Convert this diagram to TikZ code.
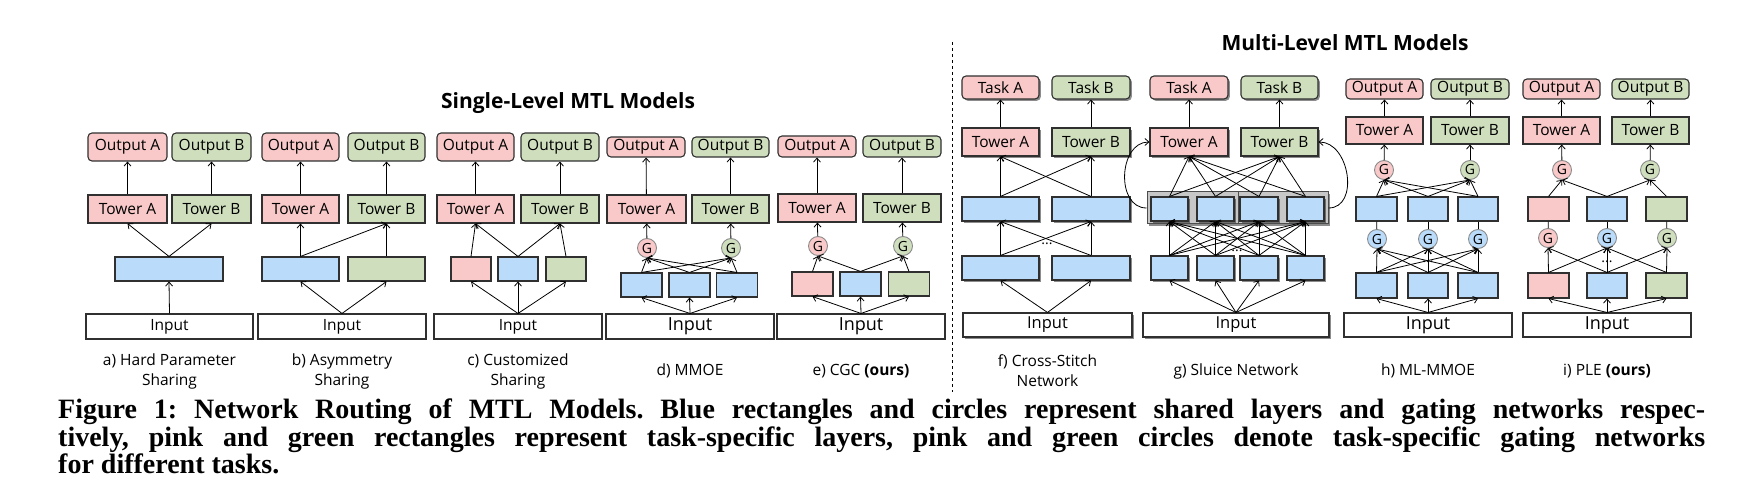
\documentclass[tikz,border=0pt]{standalone}
\usepackage{fontspec}
\setmainfont{Open Sans}
\newfontfamily\capfont{Liberation Serif}
\usepackage{tikz}
\usetikzlibrary{arrows.meta,shadows}
\definecolor{mtlpink}{HTML}{F8C9C8}
\definecolor{mtlgreen}{HTML}{CFDFBE}
\definecolor{mtlblue}{HTML}{BADCFA}
\definecolor{boxline}{HTML}{303030}
\definecolor{gateline}{HTML}{8A8A8A}
\tikzset{sz/.style 2 args={minimum width=#1pt,minimum height=#2pt}}

\begin{document}
\begin{tikzpicture}[x=1pt,y=-1pt,
  font=\fontsize{15.5}{18}\selectfont,
  box/.style={draw=boxline,line width=1.1pt,inner sep=0pt,align=center},
  outbox/.style={box,rounded corners=4pt},
  inbox/.style={box,fill=white},
  pinkbox/.style={fill=mtlpink},
  greenbox/.style={fill=mtlgreen},
  bluebox/.style={fill=mtlblue},
  gate/.style={circle,draw=gateline,line width=0.9pt,minimum size=19pt,inner sep=0pt,font=\fontsize{14}{14}\selectfont},
  shade/.style={drop shadow={shadow xshift=1.8pt,shadow yshift=-1.8pt,fill=black,opacity=0.45}},
  frame/.style={draw=black!70,fill=black!22,line width=1pt,inner sep=0pt},
  flow/.style={-{Straight Barb[length=4pt,width=7pt]},line width=0.8pt},
  link/.style={line width=0.8pt},
  subcap/.style={align=center,font=\fontsize{15.5}{20}\selectfont},
  heading/.style={font=\bfseries\fontsize{21}{24}\selectfont},
  dots/.style={font=\fontsize{14}{14}\selectfont,inner sep=0pt}
]
  \useasboundingbox (0,0) rectangle (1737,497);

  % headings
  \node[heading] (single) at (568,103) {Single-Level MTL Models};
  \node[heading] (multi) at (1345,43) {Multi-Level MTL Models};
  \coordinate (sepT) at (952,42);
  \coordinate (sepB) at (952,392);
  \draw[dashed,line width=0.8pt] (sepT) -- (sepB);

  % a) hard parameter sharing
  \node[outbox,pinkbox,sz={79}{28}] (a-oA) at (127.5,147) {Output A};
  \node[outbox,greenbox,sz={79}{28}] (a-oB) at (211.5,147) {Output B};
  \node[box,pinkbox,sz={79}{28}] (a-tA) at (127.5,209) {Tower A};
  \node[box,greenbox,sz={79}{28}] (a-tB) at (211.5,209) {Tower B};
  \node[box,bluebox,sz={108}{24}] (a-sh) at (169,269) {};
  \node[inbox,sz={167}{25}] (a-in) at (169.5,326.5) {Input};
  \node[subcap] (a-cap) at (169.5,371) {a) Hard Parameter\\Sharing};
  \draw[flow] (a-in.north) -- (a-sh.south);
  \draw[flow] (a-sh.north) -- (a-tA.south);
  \draw[flow] (a-sh.north) -- (a-tB.south);
  \draw[flow] (a-tA) -- (a-oA);
  \draw[flow] (a-tB) -- (a-oB);

  % b) asymmetry sharing
  \node[outbox,pinkbox,sz={77}{28}] (b-oA) at (300.5,147) {Output A};
  \node[outbox,greenbox,sz={77}{28}] (b-oB) at (386.5,147) {Output B};
  \node[box,pinkbox,sz={77}{28}] (b-tA) at (300.5,209) {Tower A};
  \node[box,greenbox,sz={77}{28}] (b-tB) at (386.5,209) {Tower B};
  \node[box,bluebox,sz={77}{24}] (b-sh) at (300.5,269) {};
  \node[box,greenbox,sz={77}{24}] (b-eB) at (386.5,269) {};
  \node[inbox,sz={168}{25}] (b-in) at (342,326.5) {Input};
  \node[subcap] (b-cap) at (342,371) {b) Asymmetry\\Sharing};
  \draw[flow] (b-in.north) -- (b-sh.south);
  \draw[flow] (b-in.north) -- (b-eB.south);
  \draw[flow] (b-sh.north) -- (b-tA.south);
  \draw[flow] (b-sh.north) -- (b-tB.south);
  \draw[flow] (b-eB.north) -- (b-tB.south);
  \draw[flow] (b-tA) -- (b-oA);
  \draw[flow] (b-tB) -- (b-oB);

  % c) customized sharing
  \node[outbox,pinkbox,sz={77}{28}] (c-oA) at (475.5,147) {Output A};
  \node[outbox,greenbox,sz={78}{28}] (c-oB) at (560,147) {Output B};
  \node[box,pinkbox,sz={77}{28}] (c-tA) at (475.5,209) {Tower A};
  \node[box,greenbox,sz={78}{28}] (c-tB) at (560,209) {Tower B};
  \node[box,pinkbox,sz={40}{24}] (c-eA) at (471,269) {};
  \node[box,bluebox,sz={40}{24}] (c-sh) at (518,269) {};
  \node[box,greenbox,sz={40}{24}] (c-eB) at (566,269) {};
  \node[inbox,sz={168}{25}] (c-in) at (518,326.5) {Input};
  \node[subcap] (c-cap) at (518,371) {c) Customized\\Sharing};
  \draw[flow] (c-in.north) -- (c-eA.south);
  \draw[flow] (c-in.north) -- (c-sh.south);
  \draw[flow] (c-in.north) -- (c-eB.south);
  \draw[flow] (c-eA.north) -- (c-tA.south);
  \draw[flow] (c-sh.north) -- (c-tA.south);
  \draw[flow] (c-sh.north) -- (c-tB.south);
  \draw[flow] (c-eB.north) -- (c-tB.south);
  \draw[flow] (c-tA) -- (c-oA);
  \draw[flow] (c-tB) -- (c-oB);

  % d) MMOE
  \node[outbox,pinkbox,sz={78}{20}] (d-oA) at (646,147) {Output A};
  \node[outbox,greenbox,sz={77}{20}] (d-oB) at (730.5,147) {Output B};
  \node[box,pinkbox,sz={79}{28}] (d-tA) at (646.5,209) {Tower A};
  \node[box,greenbox,sz={77}{28}] (d-tB) at (730.5,209) {Tower B};
  \node[gate,fill=mtlpink] (d-gA) at (647,248) {G};
  \node[gate,fill=mtlgreen] (d-gB) at (731,248) {G};
  \node[box,bluebox,sz={41}{24}] (d-e1) at (641.5,285) {};
  \node[box,bluebox,sz={41}{24}] (d-e2) at (689.5,285) {};
  \node[box,bluebox,sz={41}{24}] (d-e3) at (737,285) {};
  \node[inbox,sz={168}{25},font=\fontsize{18}{18}\selectfont] (d-in) at (690,326.5) {Input};
  \node[subcap] (d-cap) at (690,371) {d) MMOE};
  \foreach \i in {1,2,3} {
    \draw[flow] (d-in.north) -- (d-e\i.south);
    \draw[flow] (d-e\i.north) -- (d-gA.south);
    \draw[flow] (d-e\i.north) -- (d-gB.south);
  }
  \draw[flow] (d-gA) -- (d-tA);
  \draw[flow] (d-gB) -- (d-tB);
  \draw[flow] (d-tA) -- (d-oA);
  \draw[flow] (d-tB) -- (d-oB);

  % e) CGC
  \node[outbox,pinkbox,sz={78}{21}] (e-oA) at (817,146.5) {Output A};
  \node[outbox,greenbox,sz={78}{21}] (e-oB) at (902,146.5) {Output B};
  \node[box,pinkbox,sz={78}{28}] (e-tA) at (817,208) {Tower A};
  \node[box,greenbox,sz={78}{28}] (e-tB) at (902,208) {Tower B};
  \node[gate,fill=mtlpink] (e-gA) at (818,246) {G};
  \node[gate,fill=mtlgreen] (e-gB) at (903,246) {G};
  \node[box,pinkbox,sz={41}{24}] (e-eA) at (812.5,284) {};
  \node[box,bluebox,sz={41}{24}] (e-sh) at (860.5,284) {};
  \node[box,greenbox,sz={41}{24}] (e-eB) at (909,284) {};
  \node[inbox,sz={168}{25},font=\fontsize{18}{18}\selectfont] (e-in) at (861,326.5) {Input};
  \node[subcap] (e-cap) at (861,371) {e) CGC \textbf{(ours)}};
  \draw[flow] (e-in.north) -- (e-eA.south);
  \draw[flow] (e-in.north) -- (e-sh.south);
  \draw[flow] (e-in.north) -- (e-eB.south);
  \draw[flow] (e-eA.north) -- (e-gA.south);
  \draw[flow] (e-sh.north) -- (e-gA.south);
  \draw[flow] (e-sh.north) -- (e-gB.south);
  \draw[flow] (e-eB.north) -- (e-gB.south);
  \draw[flow] (e-gA) -- (e-tA);
  \draw[flow] (e-gB) -- (e-tB);
  \draw[flow] (e-tA) -- (e-oA);
  \draw[flow] (e-tB) -- (e-oB);

  % f) cross-stitch network
  \node[outbox,pinkbox,shade,sz={77}{23}] (f-kA) at (1000.5,87.5) {Task A};
  \node[outbox,greenbox,shade,sz={78}{23}] (f-kB) at (1091,87.5) {Task B};
  \node[box,pinkbox,shade,sz={77}{28}] (f-tA) at (1000.5,142) {Tower A};
  \node[box,greenbox,shade,sz={78}{28}] (f-tB) at (1091,142) {Tower B};
  \node[box,bluebox,shade,sz={77}{24}] (f-u1) at (1000.5,209) {};
  \node[box,bluebox,shade,sz={78}{24}] (f-u2) at (1091,209) {};
  \node[box,bluebox,shade,sz={77}{24}] (f-l1) at (1000.5,268) {};
  \node[box,bluebox,shade,sz={78}{24}] (f-l2) at (1091,268) {};
  \node[inbox,shade,sz={169}{24},font=\fontsize{16.5}{18}\selectfont] (f-in) at (1047.5,325) {Input};
  \node[dots] (f-dots) at (1047,244) {...};
  \node[subcap] (f-cap) at (1047.5,371) {f) Cross-Stitch\\Network};
  \foreach \i in {1,2} {
    \draw[flow] (f-in.north) -- (f-l\i.south);
    \draw[flow] (f-l\i.north) -- (f-u1.south);
    \draw[flow] (f-l\i.north) -- (f-u2.south);
    \draw[flow] (f-u\i.north) -- (f-tA.south);
    \draw[flow] (f-u\i.north) -- (f-tB.south);
  }
  \draw[flow] (f-tA) -- (f-kA);
  \draw[flow] (f-tB) -- (f-kB);

  % g) sluice network
  \node[outbox,pinkbox,shade,sz={78}{23}] (g-kA) at (1189,87.5) {Task A};
  \node[outbox,greenbox,shade,sz={77}{23}] (g-kB) at (1279.5,87.5) {Task B};
  \node[box,pinkbox,shade,sz={78}{28}] (g-tA) at (1189,142) {Tower A};
  \node[box,greenbox,shade,sz={77}{28}] (g-tB) at (1279.5,142) {Tower B};
  \node[frame,shade,sz={91}{32}] (g-fL) at (1192.5,208) {};
  \node[frame,shade,sz={90}{32}] (g-fR) at (1283,208) {};
  \node[box,bluebox,shade,sz={37}{24}] (g-u1) at (1169.5,209) {};
  \node[box,bluebox,shade,sz={37}{24}] (g-u2) at (1215.5,209) {};
  \node[box,bluebox,shade,sz={38}{24}] (g-u3) at (1259,209) {};
  \node[box,bluebox,shade,sz={37}{24}] (g-u4) at (1305.5,209) {};
  \node[box,bluebox,shade,sz={37}{24}] (g-l1) at (1169.5,268) {};
  \node[box,bluebox,shade,sz={37}{24}] (g-l2) at (1215.5,268) {};
  \node[box,bluebox,shade,sz={38}{24}] (g-l3) at (1259,268) {};
  \node[box,bluebox,shade,sz={37}{24}] (g-l4) at (1305.5,268) {};
  \node[inbox,shade,sz={186}{24},font=\fontsize{16.5}{18}\selectfont] (g-in) at (1236,325) {Input};
  \node[dots] (g-dots) at (1237,251) {...};
  \node[subcap] (g-cap) at (1236,371) {g) Sluice Network};
  \foreach \i in {1,...,4} {
    \draw[flow] (g-in.north) -- (g-l\i.south);
    \foreach \j in {1,...,4}
      \draw[flow] (g-l\i.north) -- (g-u\j.south);
    \draw[flow] (g-u\i.north) -- (g-tA.south);
    \draw[flow] (g-u\i.north) -- (g-tB.south);
  }
  \draw[flow] (g-fL.west) to[out=180,in=180,looseness=1.2] (g-tA.west);
  \draw[flow] (g-fR.east) to[out=0,in=0,looseness=1.2] (g-tB.east);
  \draw[flow] (g-tA) -- (g-kA);
  \draw[flow] (g-tB) -- (g-kB);

  % h) ML-MMOE
  \node[outbox,pinkbox,sz={77}{20}] (h-oA) at (1384.5,89) {Output A};
  \node[outbox,greenbox,sz={78}{20}] (h-oB) at (1470,89) {Output B};
  \node[box,pinkbox,sz={77}{27}] (h-tA) at (1384.5,130.5) {Tower A};
  \node[box,greenbox,sz={78}{27}] (h-tB) at (1470,130.5) {Tower B};
  \node[gate,fill=mtlpink] (h-gA) at (1384,170) {G};
  \node[gate,fill=mtlgreen] (h-gB) at (1470,170) {G};
  \node[box,bluebox,sz={41}{24}] (h-u1) at (1376.5,209) {};
  \node[box,bluebox,sz={40}{24}] (h-u2) at (1428,209) {};
  \node[box,bluebox,sz={40}{24}] (h-u3) at (1478,209) {};
  \node[gate,fill=mtlblue] (h-m1) at (1377,239) {G};
  \node[gate,fill=mtlblue] (h-m2) at (1428,239) {G};
  \node[gate,fill=mtlblue] (h-m3) at (1478,239) {G};
  \node[box,bluebox,sz={41}{25}] (h-l1) at (1376.5,285.5) {};
  \node[box,bluebox,sz={40}{25}] (h-l2) at (1428,285.5) {};
  \node[box,bluebox,sz={40}{25}] (h-l3) at (1478,285.5) {};
  \node[inbox,sz={168}{24},font=\fontsize{18}{18}\selectfont] (h-in) at (1428,325) {Input};
  \node[dots] (h-dots) at (1428,262) {...};
  \node[subcap] (h-cap) at (1428,371) {h) ML-MMOE};
  \foreach \i in {1,2,3} {
    \draw[flow] (h-in.north) -- (h-l\i.south);
    \foreach \j in {1,2,3}
      \draw[flow] (h-l\i.north) -- (h-m\j.south);
    \draw[link] (h-m\i) -- (h-u\i);
    \draw[flow] (h-u\i.north) -- (h-gA.south);
    \draw[flow] (h-u\i.north) -- (h-gB.south);
  }
  \draw[flow] (h-gA) -- (h-tA);
  \draw[flow] (h-gB) -- (h-tB);
  \draw[flow] (h-tA) -- (h-oA);
  \draw[flow] (h-tB) -- (h-oB);

  % i) PLE
  \node[outbox,pinkbox,sz={77}{20}] (i-oA) at (1561.5,89) {Output A};
  \node[outbox,greenbox,sz={77}{20}] (i-oB) at (1650.5,89) {Output B};
  \node[box,pinkbox,sz={77}{27}] (i-tA) at (1561.5,130.5) {Tower A};
  \node[box,greenbox,sz={77}{27}] (i-tB) at (1650.5,130.5) {Tower B};
  \node[gate,fill=mtlpink] (i-gA) at (1562,170) {G};
  \node[gate,fill=mtlgreen] (i-gB) at (1650,170) {G};
  \node[box,pinkbox,sz={41}{24}] (i-u1) at (1548.5,209) {};
  \node[box,bluebox,sz={40}{24}] (i-u2) at (1607,209) {};
  \node[box,greenbox,sz={41}{24}] (i-u3) at (1666.5,209) {};
  \node[gate,fill=mtlpink] (i-m1) at (1548,238) {G};
  \node[gate,fill=mtlblue] (i-m2) at (1607,238) {G};
  \node[gate,fill=mtlgreen] (i-m3) at (1667,238) {G};
  \node[box,pinkbox,sz={41}{25}] (i-l1) at (1548.5,285.5) {};
  \node[box,bluebox,sz={40}{25}] (i-l2) at (1607,285.5) {};
  \node[box,greenbox,sz={41}{25}] (i-l3) at (1666.5,285.5) {};
  \node[inbox,sz={168}{24},font=\fontsize{18}{18}\selectfont] (i-in) at (1607,325) {Input};
  \node[dots] (i-dots) at (1607,262) {...};
  \node[subcap] (i-cap) at (1607,371) {i) PLE \textbf{(ours)}};
  \foreach \i in {1,2,3} {
    \draw[flow] (i-in.north) -- (i-l\i.south);
    \draw[link] (i-m\i) -- (i-u\i);
    \draw[flow] (i-l\i.north) -- (i-m\i.south);
  }
  \draw[flow] (i-l1.north) -- (i-m2.south);
  \draw[flow] (i-l2.north) -- (i-m1.south);
  \draw[flow] (i-l2.north) -- (i-m3.south);
  \draw[flow] (i-l3.north) -- (i-m2.south);
  \draw[flow] (i-u1.north) -- (i-gA.south);
  \draw[flow] (i-u2.north) -- (i-gA.south);
  \draw[flow] (i-u2.north) -- (i-gB.south);
  \draw[flow] (i-u3.north) -- (i-gB.south);
  \draw[flow] (i-gA) -- (i-tA);
  \draw[flow] (i-gB) -- (i-tB);
  \draw[flow] (i-tA) -- (i-oA);
  \draw[flow] (i-tB) -- (i-oB);

  % figure caption
  \node[anchor=north west,inner sep=0pt,text width=1647pt,align=justify,
    font=\capfont\bfseries\fontsize{28}{27.5}\selectfont\frenchspacing] (figcap) at (58,399)
    {Figure 1: Network Routing of MTL Models. Blue rectangles and circles represent shared layers and gating networks respec-\linebreak tively, pink and green rectangles represent task-specific layers, pink and green circles denote task-specific gating networks\linebreak for different tasks.};
\end{tikzpicture}
\end{document}
